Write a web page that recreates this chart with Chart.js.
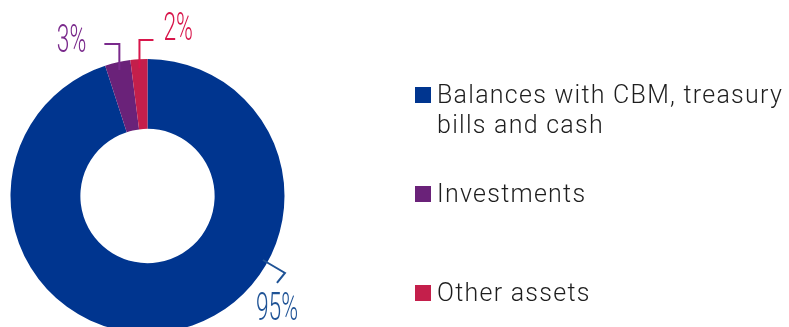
<!DOCTYPE html>
<html>
<head>
<meta charset="utf-8">
<script src="https://cdn.jsdelivr.net/npm/chart.js@4.4.1/dist/chart.umd.min.js"></script>
<style>
  html, body { margin: 0; padding: 0; background: #fff; overflow: hidden; }
  #wrap { position: relative; width: 789px; height: 360px; }
</style>
</head>
<body>
<div id="wrap"><canvas id="c" width="789" height="360"></canvas></div>
<script>
// Asset structure
const categories = ['Balances with CBM, treasury bills and cash', 'Investments', 'Other assets'];
const legendLines = [['Balances with CBM, treasury', 'bills and cash'], ['Investments'], ['Other assets']];
const shares = [95, 3, 2];
const valueLabels = ['95%', '3%', '2%'];

const sliceColors = ['#00358F', '#6A2279', '#C41F4B'];
const textColors = ['#1F5396', '#7A2A8C', '#D8164B'];

// Leader lines: start point on the ring (angle in degrees, clockwise from 3 o'clock),
// then relative segments, then label offset from the last point.
const leaders = [
  { angle: 29,   r: 132, path: [[22, 13], [-8, 10]], text: { dx: 0,   dy: 37, align: 'center' } },
  { angle: null, r: 129, path: 'up', up: 15, hx: -15, text: { dx: -18, dy: 8, align: 'right' } },
  { angle: null, r: 128, path: 'up', up: 19, hx: 14,  text: { dx: 10,  dy: 0, align: 'left' } }
];

const valueLabelPlugin = {
  id: 'valueLabels',
  afterDatasetsDraw(chart) {
    const ctx = chart.ctx;
    const meta = chart.getDatasetMeta(0);
    meta.data.forEach((arc, i) => {
      const L = leaders[i];
      const cx = arc.x, cy = arc.y;
      const ang = L.angle !== null ? L.angle * Math.PI / 180 : (arc.startAngle + arc.endAngle) / 2;
      const sx = cx + L.r * Math.cos(ang);
      const sy = cy + L.r * Math.sin(ang);
      const pts = [[sx, sy]];
      if (L.path === 'up') {
        const ey = cy - arc.outerRadius - L.up;
        pts.push([sx, ey]);
        pts.push([sx + L.hx, ey]);
      } else {
        let px = sx, py = sy;
        L.path.forEach(([dx, dy]) => { px += dx; py += dy; pts.push([px, py]); });
      }
      ctx.save();
      ctx.strokeStyle = textColors[i];
      ctx.lineWidth = 2;
      ctx.lineJoin = 'miter';
      ctx.beginPath();
      pts.forEach(([x, y], k) => k ? ctx.lineTo(x, y) : ctx.moveTo(x, y));
      ctx.stroke();

      const [lx, ly] = pts[pts.length - 1];
      const tx = lx + L.text.dx, ty = ly + L.text.dy;
      const squeeze = 0.6;
      ctx.font = '300 38px Roboto, "DejaVu Sans", sans-serif';
      ctx.fillStyle = textColors[i];
      ctx.textBaseline = 'alphabetic';
      const w = ctx.measureText(valueLabels[i]).width * squeeze;
      let left = tx;
      if (L.text.align === 'center') left = tx - w / 2;
      else if (L.text.align === 'right') left = tx - w;
      ctx.translate(left, ty);
      ctx.scale(squeeze, 1);
      ctx.textAlign = 'left';
      ctx.fillText(valueLabels[i], 0, 0);
      ctx.restore();
    });
  }
};

const legendPlugin = {
  id: 'sideLegend',
  afterDraw(chart) {
    const ctx = chart.ctx;
    const x0 = 415, box = 16, textX = 437;
    const firstBaseline = 103, step = 99, lineGap = 30;
    const firstLineWidth = 346;
    ctx.save();
    ctx.font = '300 25px Roboto, "Liberation Sans", sans-serif';
    ctx.textBaseline = 'alphabetic';
    ctx.textAlign = 'left';
    // open the tracking up so the longest line spans its full width
    const ref = legendLines[0][0];
    const natural = ctx.measureText(ref).width;
    const spacing = Math.max(0, (firstLineWidth - natural) / ref.length);
    ctx.letterSpacing = spacing.toFixed(2) + 'px';
    legendLines.forEach((lines, i) => {
      const base = firstBaseline + step * i;
      ctx.fillStyle = sliceColors[i];
      ctx.fillRect(x0, base - box, box, box);
      ctx.fillStyle = '#1e1e1e';
      lines.forEach((t, k) => ctx.fillText(t, textX, base + k * lineGap));
    });
    ctx.restore();
  }
};

new Chart(document.getElementById('c'), {
  type: 'doughnut',
  data: {
    labels: categories,
    datasets: [{
      data: shares,
      backgroundColor: sliceColors,
      borderWidth: 0,
      hoverOffset: 0
    }]
  },
  options: {
    responsive: false,
    animation: false,
    cutout: '49%',
    layout: { padding: { left: 10, right: 504, top: 59, bottom: 27 } },
    plugins: {
      legend: { display: false },
      tooltip: { enabled: false }
    }
  },
  plugins: [valueLabelPlugin, legendPlugin]
});
</script>
</body>
</html>
